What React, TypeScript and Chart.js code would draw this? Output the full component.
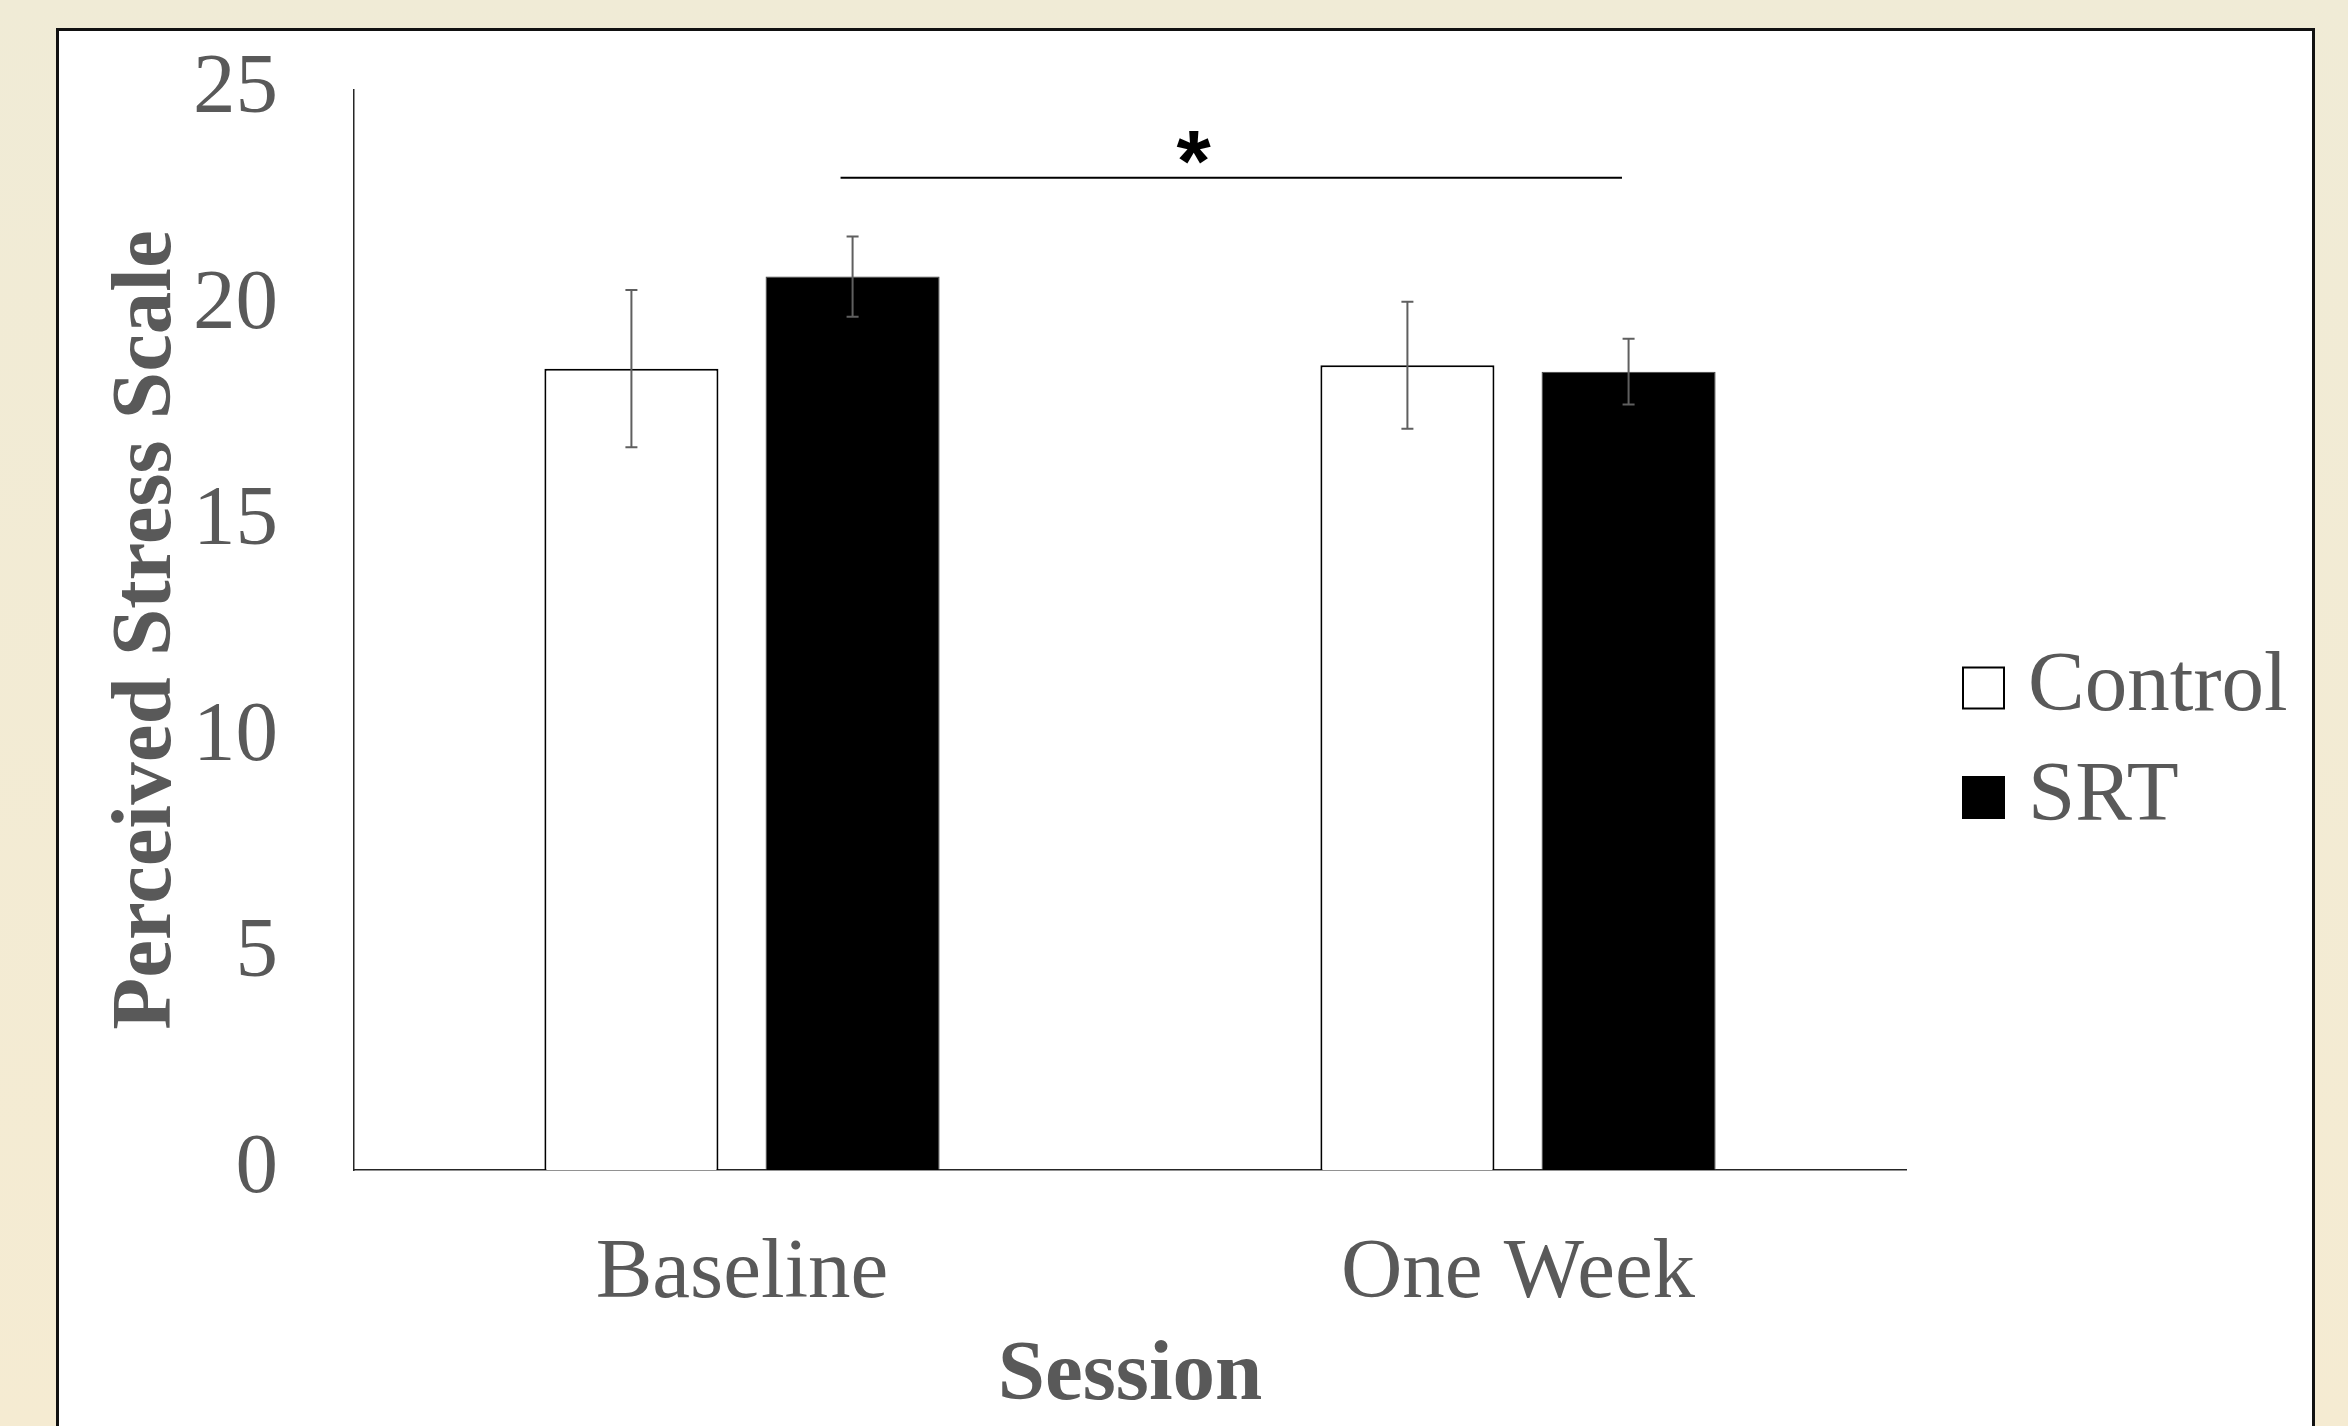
import React, { useEffect, useRef } from 'react';
import { Chart, registerables } from 'chart.js';

Chart.register(...registerables);

// ---------- data ----------
const sessions = ['Baseline', 'One Week'];
const seriesNames = ['Control', 'SRT'];
const controlMeans = [18.55, 18.63];
const controlErrors = [1.82, 1.47];
const srtMeans = [20.68, 18.48];
const srtErrors = [0.93, 0.76];
const yTicks = [0, 5, 10, 15, 20, 25];
const yTitle = 'Perceived Stress Scale';
const xTitle = 'Session';
// significance annotation (x in category-index units, y in scale units)
const sigLineFrom = 0.127;
const sigLineTo = 1.134;
const sigLineValue = 22.97;
const sigMark = '*';
const sigMarkAt = 0.582;
const sigMarkValue = 23.67;

const SERIF = "'Liberation Serif', 'Times New Roman', serif";
const SANS = "'Liberation Sans', Arial, sans-serif";
const GRAY = '#595959';

const errorsBySeries = [controlErrors, srtErrors];

const errorBarPlugin = {
  id: 'errorBars',
  afterDatasetsDraw(chart: any) {
    const { ctx } = chart;
    const ys = chart.scales.y;
    chart.data.datasets.forEach((ds: any, i: number) => {
      const meta = chart.getDatasetMeta(i);
      const errs = errorsBySeries[i];
      meta.data.forEach((el: any, j: number) => {
        const v = ds.data[j] as number;
        const e = errs[j];
        const top = ys.getPixelForValue(v + e);
        const bot = ys.getPixelForValue(v - e);
        ctx.save();
        ctx.strokeStyle = '#5f5f5f';
        ctx.lineWidth = 2;
        ctx.beginPath();
        ctx.moveTo(el.x, top);
        ctx.lineTo(el.x, bot);
        ctx.moveTo(el.x - 6, top);
        ctx.lineTo(el.x + 6, top);
        ctx.moveTo(el.x - 6, bot);
        ctx.lineTo(el.x + 6, bot);
        ctx.stroke();
        ctx.restore();
      });
    });
  },
};

const significancePlugin = {
  id: 'significance',
  afterDatasetsDraw(chart: any) {
    const { ctx } = chart;
    const xs = chart.scales.x;
    const ys = chart.scales.y;
    const x0 = xs.getPixelForValue(sigLineFrom);
    const x1 = xs.getPixelForValue(sigLineTo);
    const ly = ys.getPixelForValue(sigLineValue);
    ctx.save();
    ctx.strokeStyle = '#000';
    ctx.lineWidth = 2;
    ctx.beginPath();
    ctx.moveTo(x0, ly);
    ctx.lineTo(x1, ly);
    ctx.stroke();
    const mx = xs.getPixelForValue(sigMarkAt);
    const my = ys.getPixelForValue(sigMarkValue);
    ctx.font = `bold 88px ${SANS}`;
    ctx.fillStyle = '#000';
    ctx.textAlign = 'center';
    ctx.textBaseline = 'alphabetic';
    const m = ctx.measureText(sigMark);
    const asc = m.actualBoundingBoxAscent;
    const desc = m.actualBoundingBoxDescent;
    ctx.fillText(sigMark, mx, my + (asc - desc) / 2);
    ctx.restore();
  },
};

const sideLegendPlugin = {
  id: 'sideLegend',
  afterDraw(chart: any) {
    const { ctx, chartArea } = chart;
    const size = 43;
    const boxX = chartArea.right + 56;
    const rows = [688, 797.5];
    chart.data.datasets.forEach((ds: any, i: number) => {
      const cy = rows[i];
      ctx.save();
      ctx.fillStyle = ds.backgroundColor;
      ctx.fillRect(boxX, cy - size / 2, size, size);
      ctx.strokeStyle = '#000';
      ctx.lineWidth = 2;
      ctx.strokeRect(boxX + 1, cy - size / 2 + 1, size - 2, size - 2);
      ctx.font = `85px ${SERIF}`;
      ctx.fillStyle = GRAY;
      ctx.textAlign = 'left';
      ctx.textBaseline = 'middle';
      ctx.fillText(ds.label, boxX + size + 23, cy);
      ctx.restore();
    });
  },
};

export default function App() {
  const canvasRef = useRef<HTMLCanvasElement | null>(null);

  useEffect(() => {
    const canvas = canvasRef.current;
    if (!canvas) return;
    const chart = new Chart(canvas, {
      type: 'bar',
      data: {
        labels: sessions,
        datasets: [
          {
            label: seriesNames[0],
            data: controlMeans,
            backgroundColor: '#ffffff',
            borderColor: '#000000',
            borderWidth: 2,
          },
          {
            label: seriesNames[1],
            data: srtMeans,
            backgroundColor: '#000000',
            borderColor: '#404040',
            borderWidth: 1,
          },
        ],
      },
      options: {
        responsive: false,
        animation: false,
        events: [],
        categoryPercentage: 0.57,
        barPercentage: 0.787,
        layout: { padding: { left: 57, top: 90, right: 442, bottom: 0 } },
        plugins: {
          legend: { display: false },
          tooltip: { enabled: false },
        },
        scales: {
          x: {
            grid: { display: false, drawTicks: false },
            border: { display: true, color: '#262626', width: 1.5 },
            ticks: {
              padding: 54,
              color: GRAY,
              font: { family: SERIF, size: 85 },
            },
            title: {
              display: true,
              text: xTitle,
              color: GRAY,
              font: { family: SERIF, size: 85, weight: 'bold' },
              padding: { top: 2, bottom: -2 },
            },
            afterFit: (s: any) => {
              s.height = 256;
            },
          },
          y: {
            min: 0,
            max: 25,
            grid: { display: false, drawTicks: true, tickLength: 76 },
            border: { display: true, color: '#262626', width: 1.5 },
            ticks: {
              padding: 0,
              color: GRAY,
              font: { family: SERIF, size: 85 },
            },
            afterBuildTicks: (s: any) => {
              s.ticks = yTicks.map((v) => ({ value: v }));
            },
            title: {
              display: true,
              text: yTitle,
              color: GRAY,
              font: { family: SERIF, size: 85, weight: 'bold' },
              padding: { top: 40, bottom: 0 },
            },
            afterFit: (s: any) => {
              s.width = 297;
            },
          },
        },
      } as any,
      plugins: [errorBarPlugin, significancePlugin, sideLegendPlugin],
    });
    return () => chart.destroy();
  }, []);

  return (
    <div
      style={{
        position: 'fixed',
        left: 0,
        top: 0,
        width: 2348,
        height: 1426,
        overflow: 'hidden',
        background: 'linear-gradient(#f0ebd6, #f5ebd2)',
      }}
    >
      <div
        style={{
          position: 'absolute',
          left: 56,
          top: 28,
          width: 2259,
          height: 1500,
          background: '#ffffff',
          border: '3px solid #111',
          boxSizing: 'border-box',
        }}
      />
      <canvas
        ref={canvasRef}
        width={2348}
        height={1426}
        style={{ position: 'absolute', left: 0, top: 0, width: 2348, height: 1426 }}
      />
    </div>
  );
}
